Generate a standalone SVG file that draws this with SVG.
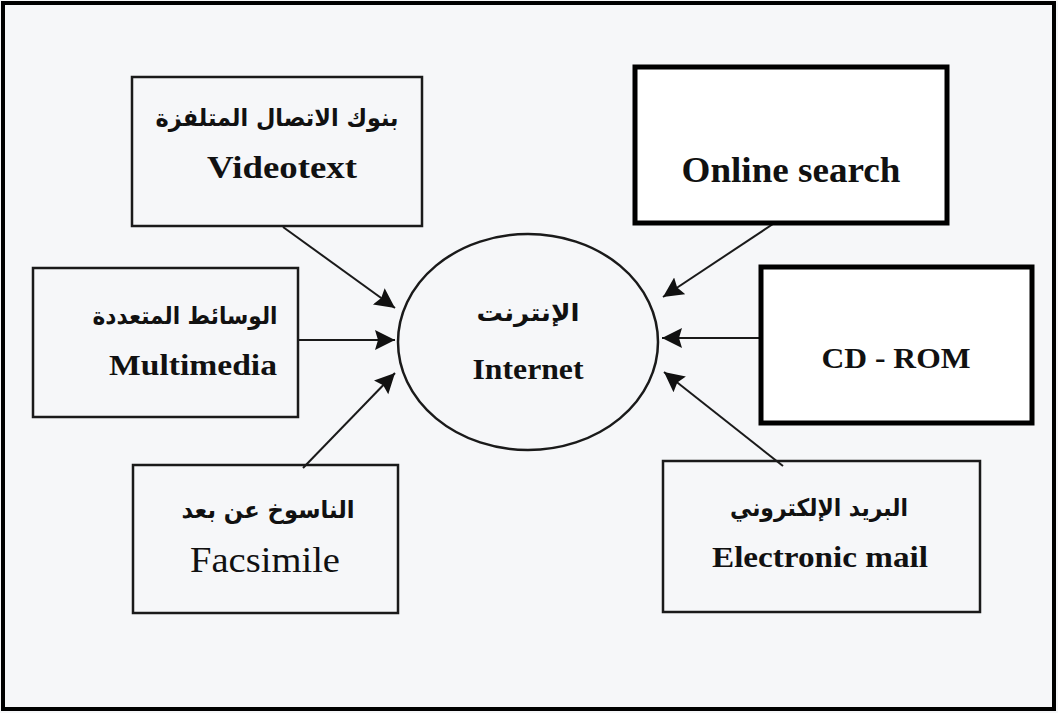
<svg xmlns="http://www.w3.org/2000/svg" width="1058" height="713" viewBox="0 0 1058 713">
<style>
.bg{fill:#f6f7f9}
.box{fill:none;stroke:#1a1a1a;stroke-width:2.5}
.bold{fill:#fff;stroke:#000;stroke-width:5}
.en{font-family:"Liberation Serif","Times New Roman",serif;font-weight:bold;fill:#111;text-anchor:middle}
.enr{font-family:"Liberation Serif","Times New Roman",serif;fill:#111;text-anchor:middle}
.ar{font-family:"DejaVu Sans","Noto Sans",sans-serif;font-weight:bold;fill:#111;text-anchor:middle;font-size:24px}
.con{stroke:#1a1a1a;stroke-width:2;fill:none}
</style>
<defs>
<marker id="ah" markerUnits="userSpaceOnUse" markerWidth="26" markerHeight="24" refX="20" refY="10" orient="auto">
<path d="M0,0 L20,10 L0,20 L3,10 Z" fill="#111"/>
</marker>
</defs>
<rect class="bg" x="0" y="0" width="1058" height="713"/>
<rect x="3" y="3" width="1051" height="706" fill="none" stroke="#000" stroke-width="4"/>
<g id="connectors">
<line class="con" x1="283" y1="227" x2="395" y2="308" marker-end="url(#ah)"/>
<line class="con" x1="298" y1="340" x2="395" y2="340" marker-end="url(#ah)"/>
<line class="con" x1="303" y1="468" x2="395" y2="373" marker-end="url(#ah)"/>
<line class="con" x1="773" y1="224" x2="663" y2="297" marker-end="url(#ah)"/>
<line class="con" x1="761" y1="338" x2="662" y2="338" marker-end="url(#ah)"/>
<line class="con" x1="783" y1="466" x2="664" y2="372" marker-end="url(#ah)"/>
</g>
<g id="videotext">
<rect class="box" x="132" y="77" width="290" height="149"/>
<text class="ar" x="277" y="126" textLength="243" lengthAdjust="spacingAndGlyphs">بنوك الاتصال المتلفزة</text>
<text class="en" x="282" y="178" font-size="31" textLength="150" lengthAdjust="spacingAndGlyphs">Videotext</text>
</g>
<g id="multimedia">
<rect class="box" x="33" y="268" width="265" height="149"/>
<text class="ar" x="185" y="324" textLength="185" lengthAdjust="spacingAndGlyphs">الوسائط المتعددة</text>
<text class="en" x="193" y="375" font-size="29" textLength="168" lengthAdjust="spacingAndGlyphs">Multimedia</text>
</g>
<g id="facsimile">
<rect class="box" x="133" y="465" width="265" height="148"/>
<text class="ar" x="268" y="518" textLength="173" lengthAdjust="spacingAndGlyphs">الناسوخ عن بعد</text>
<text class="enr" x="265" y="572" font-size="36" textLength="150" lengthAdjust="spacingAndGlyphs">Facsimile</text>
</g>
<g id="internet">
<ellipse cx="528" cy="342" rx="130" ry="108" fill="none" stroke="#1a1a1a" stroke-width="2.5"/>
<text class="ar" x="528" y="321" textLength="103" lengthAdjust="spacingAndGlyphs">الإنترنت</text>
<text class="en" x="528" y="379" font-size="30" textLength="111" lengthAdjust="spacingAndGlyphs">Internet</text>
</g>
<g id="online-search">
<rect class="bold" x="635" y="67" width="312" height="156"/>
<text class="en" x="791" y="182" font-size="35" textLength="219" lengthAdjust="spacingAndGlyphs">Online search</text>
</g>
<g id="cd-rom">
<rect class="bold" x="761" y="267" width="271" height="156"/>
<text class="en" x="896" y="368" font-size="30" textLength="149" lengthAdjust="spacingAndGlyphs">CD - ROM</text>
</g>
<g id="email">
<rect class="box" x="663" y="461" width="317" height="151"/>
<text class="ar" x="819" y="516" textLength="178" lengthAdjust="spacingAndGlyphs">البريد الإلكتروني</text>
<text class="en" x="820" y="567" font-size="29" textLength="216" lengthAdjust="spacingAndGlyphs">Electronic mail</text>
</g>
</svg>
